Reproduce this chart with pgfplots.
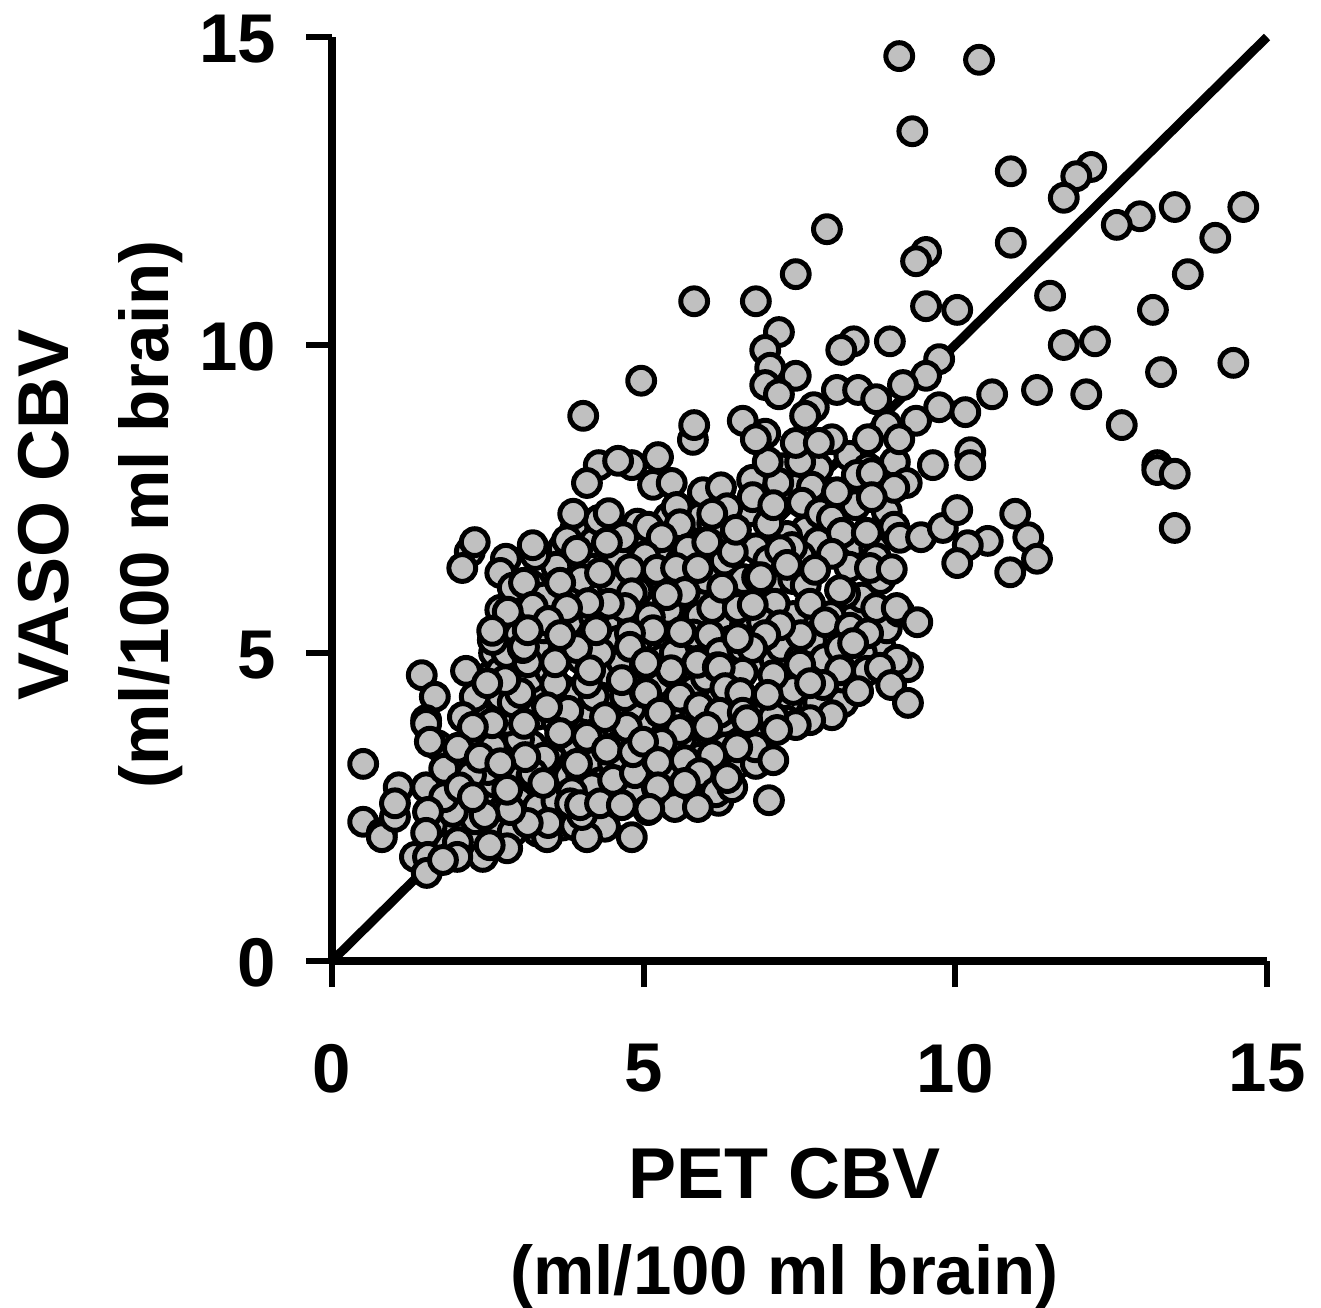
\documentclass[border=0pt]{standalone}
\usepackage{fontspec}
\setmainfont{Liberation Sans}
\usepackage{pgfplots}
\pgfplotsset{compat=1.18}
\usepackage{pgfplotstable}
\definecolor{pt}{HTML}{C0C0C0}
\pgfplotstableread{
x y
1.9 2.0
2.2 2.1
2.3 1.9
2.0 2.2
1.7 1.9
1.6 2.2
2.1 2.5
2.4 2.7
2.6 2.9
2.3 3.2
2.0 3.0
2.5 3.1
2.9 3.0
3.2 2.8
3.0 2.4
2.7 2.4
3.3 2.1
3.7 2.2
3.9 2.2
3.6 2.9
3.8 3.0
3.5 3.4
3.8 3.6
4.2 3.6
4.4 3.2
4.0 3.0
3.2 3.5
2.8 3.4
2.5 3.6
2.9 3.7
2.4 4.1
2.7 4.3
2.5 4.6
2.3 4.1
3.3 4.3
3.7 4.4
4.1 4.1
4.4 4.2
4.1 5.3
3.6 5.7
3.3 5.1
2.9 5.5
2.7 5.7
2.6 5.0
3.2 6.1
3.7 6.7
3.9 7.0
4.1 6.5
4.4 6.3
4.3 7.0
4.8 6.6
4.9 7.1
5.3 6.6
5.4 7.2
5.9 6.8
5.9 7.2
5.7 6.1
6.0 5.9
6.4 5.9
6.7 5.9
6.8 6.7
7.1 6.2
7.4 6.2
7.4 5.6
7.1 5.8
6.5 5.5
5.9 5.6
5.5 5.4
5.2 5.1
5.3 4.9
4.5 4.9
4.4 5.5
4.9 5.2
4.8 4.6
5.3 4.2
5.6 4.6
6.0 4.2
6.4 4.8
6.8 4.9
7.2 4.4
7.1 4.9
7.8 4.2
8.2 4.2
8.2 5.3
8.4 5.6
8.8 5.1
8.9 5.4
8.4 6.8
8.7 6.7
8.9 7.3
8.4 7.4
7.9 7.0
7.6 7.0
7.0 7.6
7.4 7.8
7.6 8.3
7.2 8.0
7.8 8.0
8.3 8.2
8.9 8.7
5.8 3.9
5.4 3.5
4.9 3.3
5.0 3.9
6.1 3.6
6.5 3.2
6.8 3.2
6.9 3.7
7.3 4.2
6.2 2.6
5.9 2.8
5.4 2.7
4.9 2.7
4.5 2.6
4.2 2.4
3.2 3.0
2.9 2.7
2.3 2.3
1.9 3.3
1.7 3.5
2.6 2.2
2.9 2.1
3.0 2.6
3.3 2.5
3.6 2.6
3.4 3.3
3.0 3.6
2.8 3.9
2.9 4.2
3.3 4.0
3.6 3.9
3.2 4.6
2.7 4.7
3.4 5.4
3.8 5.5
3.7 5.0
3.5 4.7
3.9 4.3
4.2 4.3
4.4 4.7
3.9 3.5
4.2 3.2
4.6 3.5
4.3 2.9
4.7 3.1
5.0 3.0
5.4 3.1
5.6 3.6
5.4 4.0
4.8 4.1
4.7 4.3
5.2 4.5
5.5 5.0
5.8 4.4
6.0 4.6
5.8 5.3
6.2 5.5
6.4 5.2
6.9 5.5
7.2 5.1
7.4 4.4
7.5 4.9
7.7 5.2
7.9 4.9
8.0 5.6
7.6 6.1
7.3 6.9
7.0 6.5
6.6 6.2
6.3 6.5
6.0 6.2
5.6 6.5
5.3 6.2
4.9 6.0
4.5 6.1
4.2 5.6
4.6 5.2
5.0 5.5
5.4 5.7
5.6 6.9
6.1 7.1
6.7 7.3
7.0 7.1
5.0 6.7
4.6 6.5
4.2 6.8
4.0 6.2
3.6 6.4
3.4 5.9
3.0 5.7
3.0 5.3
2.8 5.0
4.0 4.9
6.5 4.6
6.9 4.1
7.3 3.9
6.7 3.7
6.3 3.9
5.9 3.3
6.2 3.0
5.7 2.7
5.5 2.5
8.3 6.4
8.5 5.9
8.8 6.2
8.5 5.0
8.2 4.6
7.8 6.8
8.0 7.6
7.7 7.7
8.6 8.0
1.44 4.64
2.15 4.71
1.65 4.29
1.51 3.91
1.51 3.85
1.57 3.56
2.29 4.29
0.50 3.20
1.07 2.82
1.51 2.82
1.80 3.12
2.23 3.54
2.58 3.47
2.23 3.02
2.57 3.86
3.08 3.85
3.02 4.35
3.14 4.85
3.58 4.50
3.58 4.85
3.79 4.06
4.09 4.51
4.09 3.64
3.93 3.20
4.51 3.20
4.94 3.56
5.02 4.35
4.65 4.85
4.65 4.56
4.17 2.82
4.86 2.69
5.07 2.45
4.81 2.01
4.38 2.18
4.09 2.01
4.01 2.37
3.85 2.74
3.45 2.01
3.47 2.24
3.14 2.24
3.22 3.05
3.10 3.31
2.86 2.45
2.81 1.83
2.42 1.69
2.53 1.88
2.02 1.93
2.45 2.37
2.81 2.78
1.94 2.42
1.80 2.66
1.54 2.42
1.51 2.08
0.50 2.26
0.80 2.08
0.80 2.01
1.01 2.34
1.01 2.56
1.33 1.69
1.54 1.69
1.52 1.43
2.01 1.69
1.78 1.64
4.51 2.94
4.86 3.05
5.21 3.26
4.73 3.80
4.38 3.96
4.30 5.00
3.93 5.08
3.06 5.08
2.58 5.21
2.78 4.56
2.49 4.51
2.10 3.96
2.26 3.80
2.02 3.46
2.37 3.30
2.70 3.21
2.05 2.82
2.26 2.66
3.45 4.12
3.39 2.89
3.82 2.56
3.98 2.53
4.30 2.56
4.65 2.53
5.21 2.82
3.66 3.70
4.41 3.43
4.83 3.39
4.28 8.05
4.81 8.05
4.59 8.12
5.23 8.18
4.09 7.76
5.15 7.73
5.45 7.76
5.95 7.61
6.24 7.69
6.74 7.81
4.28 7.16
3.87 7.26
4.44 7.27
5.53 7.37
6.34 7.35
5.58 7.09
6.10 7.26
5.07 7.05
5.29 6.88
4.67 6.88
3.77 6.83
4.41 6.79
3.93 6.66
2.21 6.64
2.29 6.80
2.09 6.38
2.79 6.53
3.26 6.59
3.22 6.75
2.70 6.30
2.90 6.06
3.08 6.14
3.66 6.14
4.30 6.30
5.02 6.57
4.78 6.36
5.71 6.69
5.21 6.35
5.52 6.38
5.87 6.38
5.66 5.99
5.37 5.94
4.81 5.97
4.70 5.73
4.44 5.80
4.11 5.81
3.77 5.73
3.22 5.75
2.82 5.67
3.47 5.52
2.57 5.36
4.24 5.37
5.10 5.58
5.15 5.37
4.78 5.32
5.60 5.34
6.10 5.73
6.51 5.73
6.26 6.06
6.82 6.23
6.43 6.64
6.02 6.80
6.48 7.00
6.75 7.53
5.79 8.46
3.08 5.10
3.66 5.29
5.45 4.69
6.06 5.29
6.22 5.00
6.58 5.08
5.86 4.84
5.02 4.81
4.78 5.10
3.14 5.37
4.14 4.72
6.19 4.77
7.16 7.76
7.51 8.10
6.99 8.10
9.64 8.05
9.03 8.10
8.42 7.89
8.66 7.92
9.22 7.76
9.02 7.68
8.66 7.53
8.10 7.61
7.08 7.40
7.54 7.44
7.83 7.27
8.02 7.18
8.18 6.95
8.58 6.95
9.02 7.05
9.11 6.87
9.45 6.88
9.80 7.03
8.02 6.61
8.73 6.54
8.63 6.38
8.98 6.36
7.52 6.57
7.38 6.72
7.19 6.67
7.75 6.35
7.30 6.43
6.88 6.23
6.75 5.78
7.67 5.80
8.23 5.96
8.15 6.02
8.73 5.73
9.10 5.67
9.06 5.73
9.39 5.50
7.91 5.50
7.52 5.29
8.31 5.41
8.60 5.32
8.15 5.08
8.36 5.16
7.19 5.45
6.95 5.29
6.74 5.08
6.51 5.24
7.51 4.81
7.08 4.64
6.59 4.68
6.22 4.76
5.44 4.72
5.04 4.84
8.58 4.71
9.24 4.77
9.06 4.89
8.79 4.76
8.15 4.72
7.88 4.48
7.67 4.51
8.44 4.38
8.97 4.48
9.24 4.19
8.02 3.99
7.67 3.91
7.44 3.83
7.08 3.96
6.99 4.32
7.14 3.75
6.31 4.43
6.55 4.35
5.58 4.29
5.89 4.12
6.22 4.03
6.59 4.03
6.66 3.91
5.04 4.35
5.26 4.03
5.58 3.75
6.02 3.80
6.31 3.46
6.79 3.47
7.08 3.26
6.50 3.47
6.10 3.34
5.66 3.26
5.29 3.54
4.99 3.56
5.23 3.23
5.90 3.05
5.66 2.89
5.23 2.82
6.16 2.74
6.42 2.82
6.34 2.97
7.01 2.61
5.87 2.50
5.09 2.47
9.10 14.69
10.38 14.63
9.31 13.47
10.89 12.82
12.18 12.89
11.94 12.74
11.74 12.39
13.52 12.24
14.62 12.24
12.96 12.09
12.59 11.95
14.17 11.74
7.94 11.88
10.89 11.66
9.53 11.51
9.37 11.36
7.44 11.15
13.73 11.15
5.81 10.71
6.80 10.71
11.52 10.80
9.53 10.63
10.03 10.57
13.17 10.57
7.17 10.21
8.37 10.06
8.17 9.92
8.95 10.06
11.74 10.00
12.24 10.06
6.95 9.92
7.03 9.63
14.46 9.71
9.74 9.77
9.53 9.50
13.30 9.56
7.44 9.50
4.96 9.42
6.95 9.35
7.17 9.20
8.10 9.27
8.44 9.27
9.16 9.35
11.31 9.27
12.10 9.20
10.59 9.20
8.73 9.12
7.73 8.99
9.74 8.99
10.16 8.91
4.03 8.85
7.59 8.85
9.37 8.77
5.81 8.70
6.59 8.77
12.67 8.70
6.95 8.56
6.80 8.47
7.44 8.41
8.02 8.47
8.60 8.47
9.10 8.47
7.81 8.41
10.24 8.26
10.24 8.05
13.24 8.05
13.24 7.97
13.52 7.91
10.96 7.26
10.03 7.32
11.17 6.88
13.52 7.03
10.52 6.82
10.20 6.75
10.03 6.46
10.88 6.31
11.31 6.53
}\cbvdata
\begin{document}
\begin{tikzpicture}
\useasboundingbox (0pt,0pt) rectangle (660.5pt,653.5pt);
\begin{axis}[
  at={(166pt,173pt)}, anchor=south west,
  scale only axis, width=467.5pt, height=462pt,
  xmin=0, xmax=15, ymin=0, ymax=15,
  clip=false,
  axis x line*=bottom, axis y line*=left,
  axis line style={line width=4pt,-},
  xtick={0,5,10,15}, ytick={0,5,10,15},
  tick style={line width=3pt,black},
  major tick length=13pt,
  tick align=outside,
  /pgf/number format/assume math mode=true,
  tick label style={font=\fontsize{34.5}{36}\selectfont\bfseries},
  xticklabel style={yshift=-25pt},
  yticklabel style={xshift=-11.5pt,yshift=-1pt},
  xlabel={{\fontsize{36}{49}\selectfont PET CBV}\\(ml/100 ml brain)},
  ylabel={{\fontsize{36}{50}\selectfont VASO CBV}\\(ml/100 ml brain)},
  xlabel style={font=\fontsize{34.5}{48}\selectfont\bfseries,align=center,
    at={(axis description cs:0.484,0)},anchor=north,yshift=-90pt},
  ylabel style={font=\fontsize{34.5}{50}\selectfont\bfseries,align=center,
    at={(axis description cs:0,0.483)},anchor=south,yshift=71pt},
]
\addplot[only marks, mark=*, mark size=6.7pt,
  mark options={draw=black,fill=pt,line width=2.5pt}] table[x=x,y=y] {\cbvdata};
\addplot[black,line width=4.5pt,line cap=butt] coordinates {(0,0) (15,15)};
\end{axis}
\end{tikzpicture}
\end{document}
